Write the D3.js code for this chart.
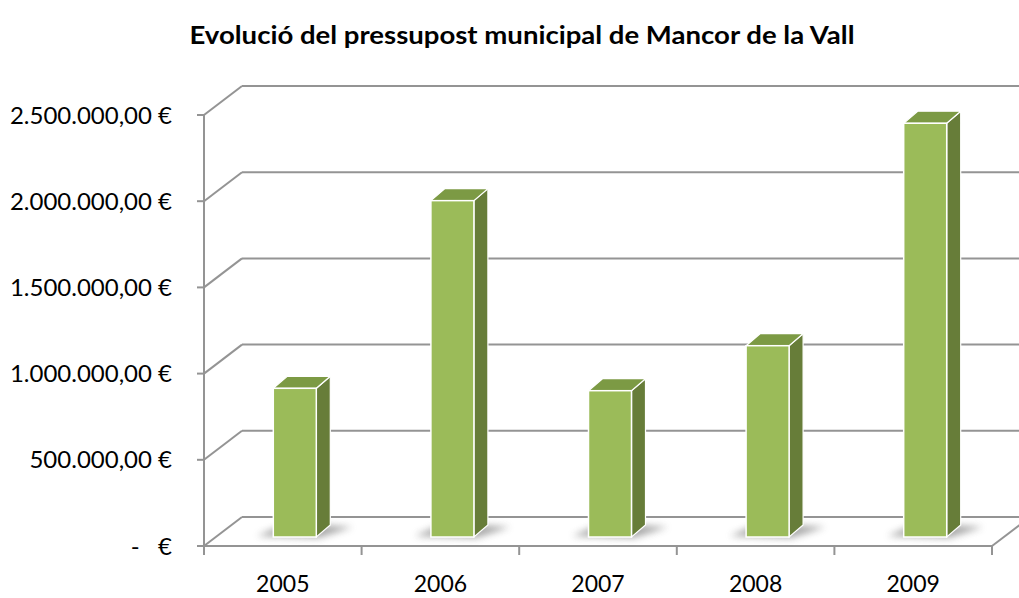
<!DOCTYPE html>
<html>
<head>
<meta charset="utf-8">
<script src="https://cdn.jsdelivr.net/npm/d3@7"></script>
<style>
  body { margin: 0; background: #fff; }
  svg { display: block; }
  text { font-family: Lato, "Open Sans", sans-serif; fill: #000; }
</style>
</head>
<body>
<svg id="chart" width="1019" height="598"></svg>
<script>
// chart data
var years = ['2005', '2006', '2007', '2008', '2009'];
var budget = [862500, 1951000, 848600, 1109600, 2400000];
var yTicks = [0, 500000, 1000000, 1500000, 2000000, 2500000];
var title = 'Evolució del pressupost municipal de Mancor de la Vall';

function euro(v) {
  /* Excel accounting style: 2.500.000,00 € and "-   €" for zero */
  if (v === 0) return '-   €';
  var s = d3.format(',.2f')(v);
  s = s.replace(/,/g, '#').replace('.', ',').replace(/#/g, '.');
  return s + ' €';
}

var svg = d3.select('#chart');

// 3d depth of the plot box (back wall offset)
var depth = {dx: 38, dy: -29};
// bar placement inside the depth
var barFront = {dx: 12, dy: -9};
var barSide = {dx: 14, dy: -12};
var barWidth = 43;

var x = d3.scaleBand().domain(years).range([204, 992]);
var y = d3.scaleLinear().domain([0, 2500000]).range([546, 115]);

var grid = '#949494';

// shadow blur
var defs = svg.append('defs');
defs.append('filter').attr('id', 'blur')
  .attr('x', '-50%').attr('y', '-50%').attr('width', '200%').attr('height', '200%')
  .append('feGaussianBlur').attr('stdDeviation', 3.5);

// title
svg.append('text')
  .attr('x', 522).attr('y', 44)
  .attr('text-anchor', 'middle')
  .attr('font-size', 25)
  .attr('font-weight', 'bold')
  .attr('textLength', 665)
  .attr('lengthAdjust', 'spacingAndGlyphs')
  .text(title);

var g = svg.append('g');

// back wall gridlines + diagonal side lines
yTicks.forEach(function(t) {
  var yy = y(t);
  g.append('line')
    .attr('x1', 204 + depth.dx).attr('y1', yy + depth.dy)
    .attr('x2', 1019).attr('y2', yy + depth.dy)
    .attr('stroke', grid).attr('stroke-width', 2);
  g.append('line')
    .attr('x1', 204).attr('y1', yy)
    .attr('x2', 204 + depth.dx).attr('y2', yy + depth.dy)
    .attr('stroke', grid).attr('stroke-width', 2);
  g.append('line')
    .attr('x1', 197).attr('y1', yy)
    .attr('x2', 204).attr('y2', yy)
    .attr('stroke', grid).attr('stroke-width', 2);
  g.append('text')
    .attr('x', 172).attr('y', yy)
    .attr('dy', '0.36em')
    .attr('text-anchor', 'end')
    .attr('font-size', 24)
    .style('white-space', 'pre')
    .text(euro(t));
});

// left axis
g.append('line')
  .attr('x1', 204).attr('y1', y(2500000))
  .attr('x2', 204).attr('y2', y(0))
  .attr('stroke', grid).attr('stroke-width', 2);

// floor: front edge and right diagonal
g.append('line')
  .attr('x1', 204).attr('y1', y(0))
  .attr('x2', 992).attr('y2', y(0))
  .attr('stroke', grid).attr('stroke-width', 2);
g.append('line')
  .attr('x1', 992).attr('y1', y(0))
  .attr('x2', 992 + depth.dx).attr('y2', y(0) + depth.dy)
  .attr('stroke', grid).attr('stroke-width', 2);

// category ticks
x.range().concat(years.map(function(d) { return x(d) + x.bandwidth(); })).forEach(function(px) {
  g.append('line')
    .attr('x1', px).attr('y1', y(0))
    .attr('x2', px).attr('y2', y(0) + 9)
    .attr('stroke', grid).attr('stroke-width', 2);
});

// category labels
years.forEach(function(d) {
  g.append('text')
    .attr('x', x(d) + x.bandwidth() / 2)
    .attr('y', 592)
    .attr('text-anchor', 'middle')
    .attr('font-size', 23)
    .text(d);
});

// bars
var bars = g.selectAll('.bar')
  .data(years.map(function(d, i) { return {year: d, value: budget[i]}; }))
  .enter().append('g').attr('class', 'bar');

function pts(arr) {
  return arr.map(function(p) { return p.join(','); }).join(' ');
}

bars.each(function(d) {
  var b = d3.select(this);
  var x0 = x(d.year) + x.bandwidth() / 2 - barWidth / 2 + barFront.dx;
  var x1 = x0 + barWidth;
  var yb = y(0) + barFront.dy;
  var yt = y(d.value) + barFront.dy;
  var sx = barSide.dx, sy = barSide.dy;

  // soft floor shadow
  b.append('polygon')
    .attr('points', pts([[x0 - 16, yb - 1], [x1 + 2, yb + 1], [x1 + sx + 22, yb + sy + 2], [x0 + sx, yb + sy - 2]]))
    .attr('fill', '#6e6e6e').attr('opacity', 0.6)
    .attr('filter', 'url(#blur)');

  // side face
  b.append('polygon')
    .attr('points', pts([[x1, yt], [x1 + sx, yt + sy], [x1 + sx, yb + sy], [x1, yb]]))
    .attr('fill', '#677d39').attr('stroke', '#fff').attr('stroke-width', 1.2);
  // top face
  b.append('polygon')
    .attr('points', pts([[x0, yt], [x0 + sx, yt + sy], [x1 + sx, yt + sy], [x1, yt]]))
    .attr('fill', '#7c9a44').attr('stroke', '#fff').attr('stroke-width', 1.2);
  // front face
  b.append('rect')
    .attr('x', x0).attr('y', yt)
    .attr('width', barWidth).attr('height', yb - yt)
    .attr('fill', '#9bbb59').attr('stroke', '#fff').attr('stroke-width', 1.5);
});
</script>
</body>
</html>
